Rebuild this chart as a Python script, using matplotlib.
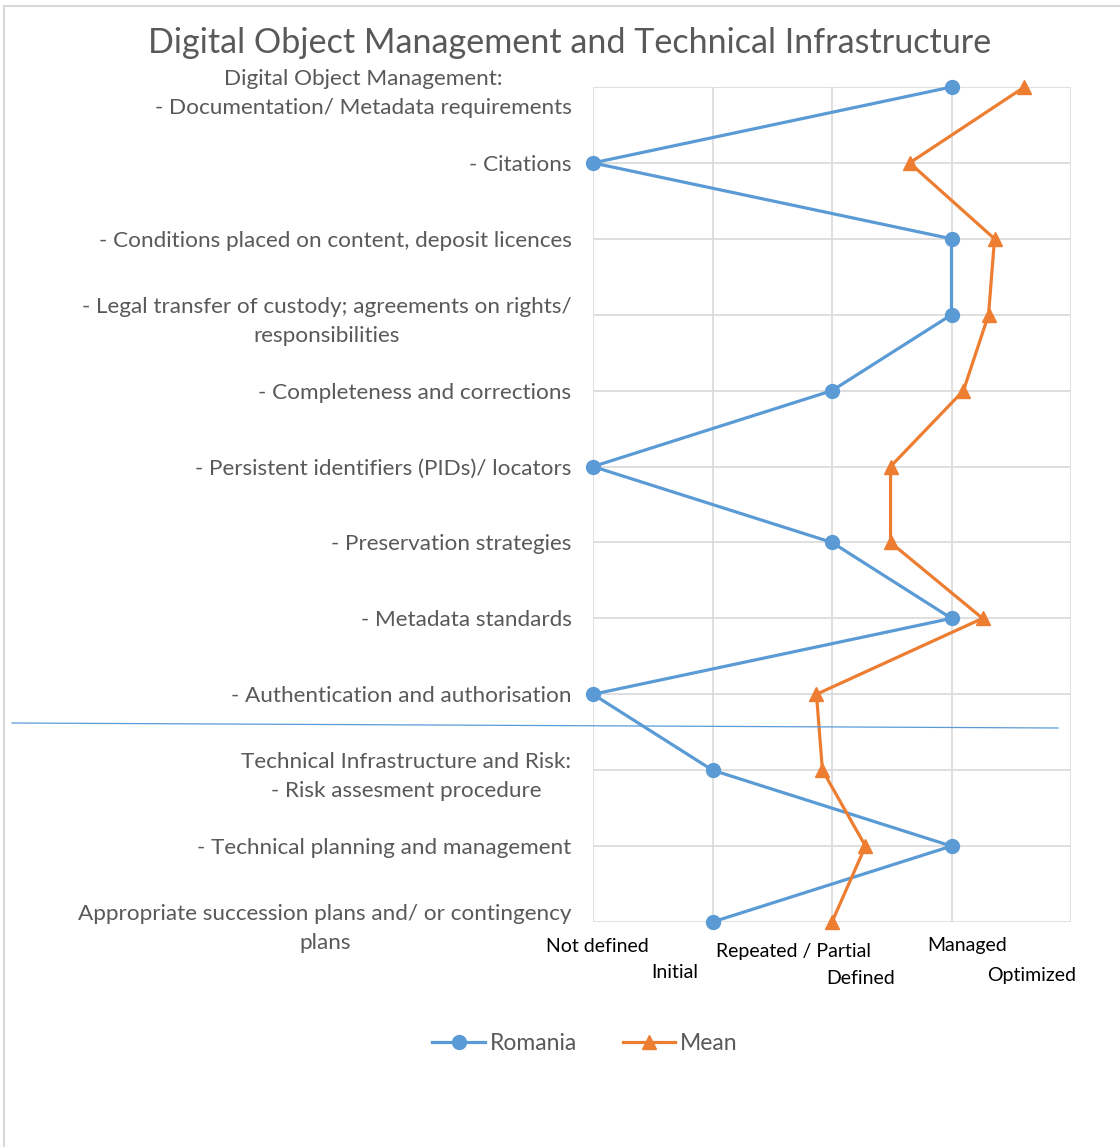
import numpy as np
import matplotlib.pyplot as plt
from matplotlib.lines import Line2D
from matplotlib.patches import Rectangle

plt.rcParams["font.family"] = ["Lato", "DejaVu Sans"]

# ---------- data ----------
categories = [
    "Digital Object Management:\n- Documentation/ Metadata requirements",
    "- Citations",
    "- Conditions placed on content, deposit licences",
    "- Legal transfer of custody; agreements on rights/\nresponsibilities",
    "- Completeness and corrections",
    "- Persistent identifiers (PIDs)/ locators",
    "- Preservation strategies",
    "- Metadata standards",
    "- Authentication and authorisation",
    "Technical Infrastructure and Risk:\n- Risk assesment procedure",
    "- Technical planning and management",
    "Appropriate succession plans and/ or contingency\nplans",
]
romania = [3, 0, 3, 3, 2, 0, 2, 3, 0, 1, 3, 1]
mean = [3.61, 2.65, 3.36, 3.31, 3.10, 2.49, 2.49, 3.26, 1.87, 1.92, 2.28, 2.0]

level_labels = ["Not defined", "Initial", "Repeated / Partial", "Defined",
                "Managed", "Optimized"]
level_x = [0.04, 0.68, 1.68, 2.24, 3.13, 3.67]
level_dy = [-24, -51, -29, -56, -24, -53]  # pixel offsets below axis

BLUE = "#5B9BD5"
ORANGE = "#ED7D31"
GRAY = "#595959"
GRID = "#D9D9D9"

fig = plt.figure(figsize=(11.2, 11.47), dpi=100)
W, H = 1120, 1147
ax = fig.add_axes([593 / W, 1 - 922 / H, (1071 - 593) / W, (922 - 87) / H])

y = np.arange(len(categories))
ax.plot(romania, y, color=BLUE, lw=2.3, marker="o", ms=10, label="Romania",
        clip_on=False, zorder=3)
ax.plot(mean, y, color=ORANGE, lw=2.3, marker="^", ms=10, label="Mean",
        clip_on=False, zorder=3)

ax.set_xlim(0, 4)
ax.set_ylim(len(categories) - 1, 0)
ax.set_xticks(range(5))
ax.set_xticklabels([])
ax.set_yticks(y)
ax.set_yticklabels(categories, fontsize=16.2, color=GRAY, ha="right",
                   multialignment="center", linespacing=1.55)
ax.tick_params(axis="y", length=0, pad=15.5)
ax.tick_params(axis="x", length=0)
ax.grid(True, color=GRID, lw=1.2)
ax.set_axisbelow(True)
for s in ax.spines.values():
    s.set_visible(False)

for lab, xv, dy in zip(level_labels, level_x, level_dy):
    ax.annotate(lab, xy=(xv, 0), xycoords=("data", "axes fraction"),
                xytext=(0, dy), textcoords="offset pixels",
                ha="center", va="center", fontsize=14, color="black",
                annotation_clip=False)

fig.text(570 / W, 1 - 43 / H, "Digital Object Management and Technical Infrastructure",
         ha="center", va="center", fontsize=24.6, color=GRAY)

leg = fig.legend(loc="center", bbox_to_anchor=(585 / W, 1 - 1044 / H), ncol=2,
                 frameon=False, fontsize=16.5, handlelength=2.3, columnspacing=2.0,
                 handletextpad=0.2)
for t in leg.get_texts():
    t.set_color(GRAY)

# separator line between the two sections
fig.add_artist(Line2D([12 / W, 1058 / W], [1 - 723 / H, 1 - 728 / H],
                      color=BLUE, lw=0.9))
# chart frame
fig.add_artist(Rectangle((4 / W, -0.05), 1.1, 1 - 6 / H + 0.05, fill=False,
                         edgecolor=GRID, lw=1.5))

fig.savefig("out.png", dpi=100)
